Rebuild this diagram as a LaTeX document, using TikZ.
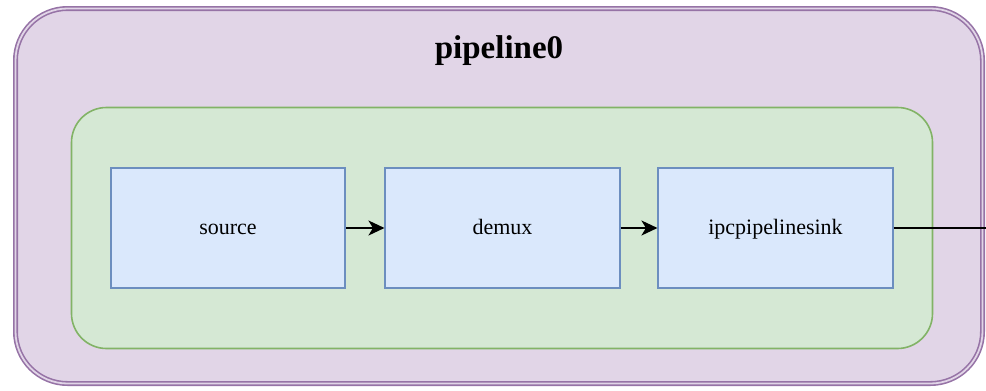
\documentclass[tikz,border=0pt]{standalone}
\usepackage{fontspec}
\setmainfont{Liberation Serif}
\usetikzlibrary{arrows.meta}

\definecolor{pipefill}{HTML}{E1D5E7}
\definecolor{pipedraw}{HTML}{9673A6}
\definecolor{binfill}{HTML}{D5E8D4}
\definecolor{bindraw}{HTML}{82B366}
\definecolor{elemfill}{HTML}{DAE8FC}
\definecolor{elemdraw}{HTML}{6C8EBF}

\tikzset{
  elem/.style = {draw=elemdraw, fill=elemfill, line width=1.6pt, inner sep=0pt,
                 minimum width=234.5pt, minimum height=120pt,
                 text height=17pt, text depth=4pt,
                 font=\fontsize{22}{26}\selectfont},
  link/.style = {-{Stealth[length=16pt, width=15pt, inset=4.5pt]}, line width=2pt}
}

\begin{document}
\begin{tikzpicture}[x=1pt, y=-1pt]
\useasboundingbox (0,0) rectangle (986,391);
% pipeline box, double border
\draw [fill =pipefill, draw=pipedraw, line width=1.6pt, double=pipefill, double distance=1.8pt, rounded corners=52pt] (15.5,8.5) rectangle (982.5,383.5);
\node (title) [anchor=base, font=\fontsize{33}{40}\selectfont\bfseries] at (499,58) {pipeline0};
% bin holding the elements
\draw [fill =binfill, draw=bindraw, line width=1.6pt, rounded corners=35pt] (71.5,107.5) rectangle (932.5,348.5);
\node (source) [elem] at (228,228) {source};
\node (demux) [elem] at (502.5,228) {demux};
\node (sink) [elem] at (775.5,228) {ipcpipelinesink};
\coordinate (out) at (986,228);
\draw [link] (source) -- (demux);
\draw [link] (demux) -- (sink);
\draw [line width=2pt] (sink) -- (out);
\end{tikzpicture}
\end{document}
